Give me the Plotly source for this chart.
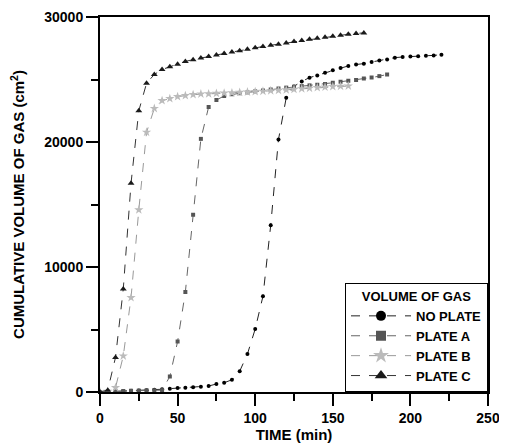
import plotly.graph_objects as go

# ---- data ----
time_no_plate = list(range(0, 225, 5))
vol_no_plate = [0, 0, 50, 80, 100, 120, 150, 180, 220, 270, 320, 350, 380, 420, 480,
                640, 740, 980, 1660, 3040, 5040, 7660, 13340, 20200, 23550, 24450,
                24850, 25150, 25330, 25550, 25750, 25930, 26090, 26200, 26270, 26400,
                26530, 26610, 26750, 26800, 26850, 26860, 26900, 26930, 26980]

time_plate_a = list(range(0, 190, 5))
vol_plate_a = [0, 30, 60, 80, 100, 110, 130, 140, 150, 1240, 4040, 8000, 14180, 20250,
               22800, 23360, 23680, 23820, 23900, 23970, 24050, 24120, 24200, 24280,
               24350, 24420, 24470, 24530, 24580, 24640, 24740, 24820, 24900, 24960,
               25080, 25160, 25270, 25400]

time_plate_b = list(range(0, 165, 5))
vol_plate_b = [0, 50, 350, 2880, 7550, 14570, 20780, 22680, 23310, 23470, 23630, 23710,
               23790, 23840, 23850, 23890, 23910, 23930, 23970, 24000, 24030, 24060,
               24100, 24130, 24170, 24210, 24260, 24300, 24350, 24390, 24430, 24460,
               24480]

time_plate_c = list(range(0, 175, 5))
vol_plate_c = [0, 150, 2770, 8240, 16700, 22500, 24700, 25400, 25800, 26030, 26220,
               26450, 26590, 26720, 26850, 26960, 27090, 27200, 27300, 27430, 27540,
               27640, 27740, 27830, 27930, 28040, 28120, 28220, 28300, 28380, 28460,
               28540, 28620, 28680, 28730]

series_names = ["NO PLATE", "PLATE A", "PLATE B", "PLATE C"]
x_ticks = [0, 50, 100, 150, 200, 250]
y_ticks = [0, 10000, 20000, 30000]

FONT = "Liberation Sans, Arial, sans-serif"

styles = [
    dict(color="#000000", symbol="circle", size=4, lsize=10, line="#222222"),
    dict(color="#555555", symbol="square", size=4, lsize=10, line="#666666"),
    dict(color="#bbbbbb", symbol="star", size=7, lsize=12, line="#999999"),
    dict(color="#1a1a1a", symbol="triangle-up", size=6, lsize=11, line="#333333"),
]
data = [(time_no_plate, vol_no_plate), (time_plate_a, vol_plate_a),
        (time_plate_b, vol_plate_b), (time_plate_c, vol_plate_c)]

fig = go.Figure()
for name, (xs, ys), st in zip(series_names, data, styles):
    fig.add_trace(go.Scatter(
        x=xs, y=ys, name=name, mode="lines+markers", showlegend=False,
        legendgroup=name,
        line=dict(color=st["line"], width=1, dash="dash"),
        marker=dict(color=st["color"], symbol=st["symbol"], size=st["size"],
                    line=dict(width=0)),
    ))
# legend entries (bigger symbols, thin dashed lines, like the reference key)
for name, st in zip(series_names, styles):
    fig.add_trace(go.Scatter(
        x=[None], y=[None], name=name, mode="lines+markers", legendgroup=name,
        line=dict(color=st["line"], width=1, dash="dash"),
        marker=dict(color=st["color"], symbol=st["symbol"], size=st["lsize"],
                    line=dict(width=0)),
    ))

axis_common = dict(
    showline=True, linecolor="black", linewidth=2, mirror=True,
    ticks="outside", ticklen=12, tickwidth=2, tickcolor="black",
    showgrid=False, zeroline=False, automargin=False,
    tickfont=dict(family=FONT, size=14, color="black", weight="bold"),
)

fig.update_xaxes(
    range=[0, 250], tickvals=x_ticks, ticktext=[str(v) for v in x_ticks],
    minor=dict(ticks="outside", dtick=25, ticklen=7, tickwidth=2, tickcolor="black"),
    title=dict(text="TIME (min)", font=dict(family=FONT, size=15, color="black", weight="bold"),
               standoff=2),
    **axis_common,
)
fig.update_yaxes(
    range=[0, 30000], tickvals=y_ticks, ticktext=[str(v) for v in y_ticks],
    minor=dict(ticks="outside", dtick=5000, ticklen=7, tickwidth=2, tickcolor="black"),
    title=dict(text="CUMULATIVE VOLUME OF GAS (cm<sup>2</sup>)",
               font=dict(family=FONT, size=15, color="black", weight="bold"),
               standoff=18),
    **axis_common,
)

# page body has an 8px margin, so the figure is sized/offset to compensate
fig.update_layout(
    width=499, height=438,
    margin=dict(l=92, r=19, t=9, b=54),
    plot_bgcolor="white", paper_bgcolor="white",
    legend=dict(
        x=1, y=0, xanchor="right", yanchor="bottom",
        bgcolor="white", bordercolor="black", borderwidth=1,
        font=dict(family=FONT, size=13, color="black", weight="bold"),
        title=dict(text="VOLUME OF GAS", side="top center",
                   font=dict(family=FONT, size=13, color="black", weight="bold")),
        tracegroupgap=0, itemwidth=60,
    ),
)

fig.write_html("out.html")
